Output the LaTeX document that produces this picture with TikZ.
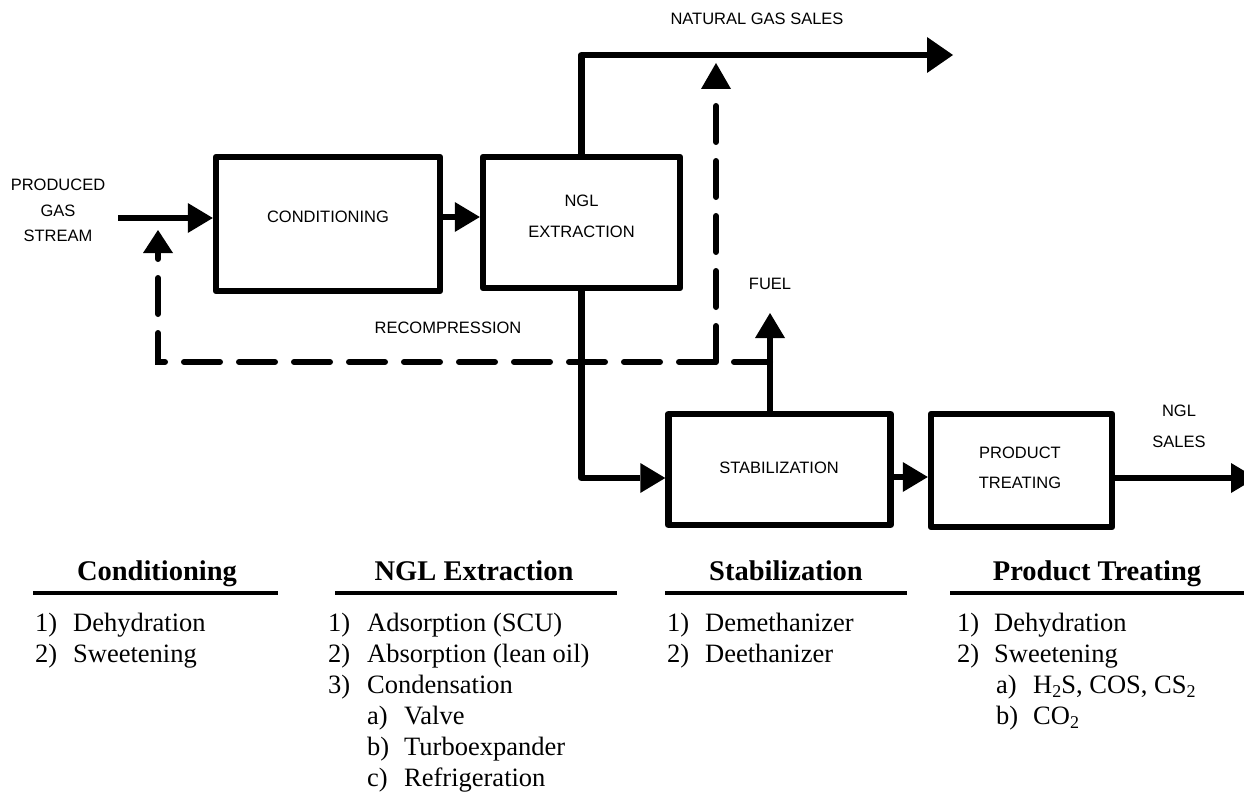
\documentclass[tikz,border=0pt]{standalone}
\usepackage{fontspec}
\setmainfont{Liberation Serif}
\setsansfont{Liberation Sans}
\usetikzlibrary{arrows.meta}
\newcommand{\sbs}[1]{\raisebox{-0.35ex}{\fontsize{18}{18}\selectfont #1}}
\newcommand{\numlbl}[2]{\makebox[#1][l]{#2}}
\begin{document}
\begin{tikzpicture}[x=1pt,y=-1pt,
  lbl/.style={font=\sffamily\fontsize{16.5}{31}\selectfont, align=center, inner sep=0pt},
  box/.style={draw, line width=6.5pt, line join=round, inner sep=0pt},
  pipe/.style={line width=6.5pt, line join=round},
  flow/.style={pipe, -{Triangle[length=25pt,width=30pt,line width=0pt]}},
  dashline/.style={line width=6pt, line cap=round, dash pattern=on 36pt off 19pt},
  head/.style={font=\bfseries\fontsize{28.5}{30}\selectfont, anchor=base, inner sep=0pt},
  item/.style={font=\fontsize{26.5}{30}\selectfont, anchor=base west, inner sep=0pt},
  rulel/.style={line width=3.5pt}
]
\useasboundingbox (0,0) rectangle (1244,797);

% boxes
\node[box, minimum width=224pt, minimum height=134pt] (cond) at (328,224) {};
\node[box, minimum width=197pt, minimum height=131pt] (ngl) at (581.5,222.5) {};
\node[box, minimum width=222pt, minimum height=111pt] (stab) at (779.5,469.5) {};
\node[box, minimum width=181pt, minimum height=113pt] (pt) at (1021.5,470.5) {};

% box texts
\node[lbl] (condtxt) at (328,217) {CONDITIONING};
\node[lbl] (ngltxt) at (581.5,216.5) {NGL\\EXTRACTION};
\node[lbl] (stabtxt) at (779,468) {STABILIZATION};
\node[lbl, font=\sffamily\fontsize{16.5}{30}\selectfont] (pttxt) at (1020,468) {PRODUCT\\TREATING};

% free labels
\node[lbl, font=\sffamily\fontsize{16.5}{25.5}\selectfont] (prodtxt) at (58,210.5) {PRODUCED\\GAS\\STREAM};
\node[lbl] (ngstxt) at (757,19) {NATURAL GAS SALES};
\node[lbl] (recomp) at (448,328) {RECOMPRESSION};
\node[lbl] (fueltxt) at (770,284) {FUEL};
\node[lbl] (nglsalestxt) at (1179,426.5) {NGL\\SALES};

% coordinates for free ends
\coordinate (src) at (118,218);
\coordinate (ngtip) at (953,55);
\coordinate (fueltip) at (770,313);
\coordinate (fj) at (770,362);
\coordinate (rj) at (716,362);
\coordinate (rctip) at (158,230);
\coordinate (ngdtip) at (716,63);
\coordinate (nglout) at (1256,478);

% connectors
\draw[flow] (src) -- (cond.west |- src);
\draw[flow] (cond.east |- 0,217) -- (ngl.west |- 0,217);
\draw[pipe, -{Triangle[length=26pt,width=36pt,line width=0pt]}] (ngl.north) -- (ngl.north |- ngtip) -- (ngtip);
\draw[flow] (ngl.south) -- (ngl.south |- 0,478) -- (stab.west |- 0,478);
\draw[flow] (stab.north -| fueltip) -- (fueltip);
\draw[flow] (stab.east |- 0,477) -- (pt.west |- 0,477);
\draw[flow] (pt.east |- nglout) -- (nglout);
\draw[dashline, -{Triangle[length=23pt,width=30pt,line width=0pt]}] (fj) -- (rctip |- fj) -- (rctip);
\draw[dashline, -{Triangle[length=26pt,width=30pt,line width=0pt]}] (rj) -- (ngdtip);

% lists
\node[head] (h1) at (157,580) {Conditioning};
\draw[rulel] (33,593) -- (278,593);
\node[item] (c1a) at (35,631) {\numlbl{38pt}{1)}Dehydration};
\node[item] (c1b) at (35,662) {\numlbl{38pt}{2)}Sweetening};

\node[head] (h2) at (474,580) {NGL Extraction};
\draw[rulel] (335,593) -- (617,593);
\node[item] (c2a) at (328,631) {\numlbl{39pt}{1)}Adsorption (SCU)};
\node[item] (c2b) at (328,662) {\numlbl{39pt}{2)}Absorption (lean oil)};
\node[item] (c2c) at (328,693) {\numlbl{39pt}{3)}Condensation};
\node[item] (c2d) at (367,724) {\numlbl{37pt}{a)}Valve};
\node[item] (c2e) at (367,755) {\numlbl{37pt}{b)}Turboexpander};
\node[item] (c2f) at (367,786) {\numlbl{37pt}{c)}Refrigeration};

\node[head] (h3) at (786,580) {Stabilization};
\draw[rulel] (665,593) -- (907,593);
\node[item] (c3a) at (667,631) {\numlbl{38pt}{1)}Demethanizer};
\node[item] (c3b) at (667,662) {\numlbl{38pt}{2)}Deethanizer};

\node[head] (h4) at (1097,580) {Product Treating};
\draw[rulel] (950,593) -- (1244,593);
\node[item] (c4a) at (957,631) {\numlbl{37pt}{1)}Dehydration};
\node[item] (c4b) at (957,662) {\numlbl{37pt}{2)}Sweetening};
\node[item] (c4c) at (996,693) {\numlbl{37pt}{a)}H\sbs{2}S, COS, CS\sbs{2}};
\node[item] (c4d) at (996,724) {\numlbl{37pt}{b)}CO\sbs{2}};
\end{tikzpicture}
\end{document}
